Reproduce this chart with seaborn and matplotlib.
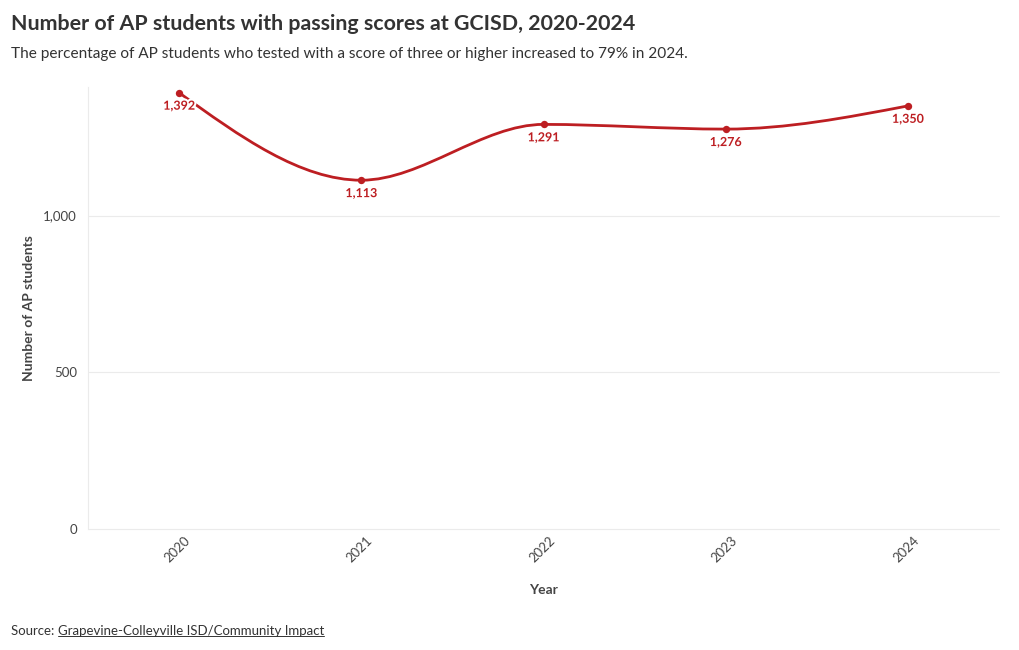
"""AP students with passing scores at GCISD, 2020-2024."""

import matplotlib

matplotlib.use("Agg")

import matplotlib.patheffects as pe
import matplotlib.pyplot as plt
import numpy as np
import pandas as pd
import seaborn as sns
from matplotlib.lines import Line2D
from matplotlib.patches import PathPatch
from matplotlib.path import Path

years = [2020, 2021, 2022, 2023, 2024]
students = [1392, 1113, 1291, 1276, 1350]
y_ticks = [0, 500, 1000]

RED = "#bd1e22"
GREY = "#444444"

sns.set_theme(style="white")
plt.rcParams["font.family"] = ["Lato", "DejaVu Sans"]


def monotone_x_path(x, y) -> Path:
    """Bezier path like d3.curveMonotoneX."""
    x = np.asarray(x, dtype=float)
    y = np.asarray(y, dtype=float)
    n = len(x)
    h = np.diff(x)
    s = np.diff(y) / h
    t = np.zeros(n)
    for i in range(1, n - 1):
        p = (s[i - 1] * h[i] + s[i] * h[i - 1]) / (h[i - 1] + h[i])
        t[i] = (np.sign(s[i - 1]) + np.sign(s[i])) * min(abs(s[i - 1]), abs(s[i]), 0.5 * abs(p))
    t[0] = (3 * s[0] - t[1]) / 2
    t[-1] = (3 * s[-1] - t[-2]) / 2
    verts = [(x[0], y[0])]
    codes = [Path.MOVETO]
    for i in range(n - 1):
        dx = h[i] / 3
        verts += [(x[i] + dx, y[i] + dx * t[i]), (x[i + 1] - dx, y[i + 1] - dx * t[i + 1]), (x[i + 1], y[i + 1])]
        codes += [Path.CURVE4] * 3
    return Path(verts, codes)


df = pd.DataFrame({"year": years, "students": students})

fig = plt.figure(figsize=(10.2, 6.5), dpi=100)
ax = fig.add_axes([0.0863, 0.186, 0.8931, 0.68])

ax.add_patch(PathPatch(monotone_x_path(years, students), fill=False, edgecolor=RED, lw=2.0, zorder=3))
sns.scatterplot(data=df, x="year", y="students", color=RED, s=28, edgecolor=RED, linewidth=0, ax=ax, zorder=4)

for yr, val in zip(years, students):
    ax.annotate(
        f"{val:,}", (yr, val), xytext=(0, -5), textcoords="offset points",
        ha="center", va="top", fontsize=9, fontweight="bold", color=RED, zorder=5,
        path_effects=[pe.withStroke(linewidth=3, foreground="white")],
    )

ax.set_xlim(2019.5, 2024.5)
ax.set_ylim(0, 1410)
ax.set_xticks(years)
ax.set_xticklabels([str(y) for y in years], rotation=45, ha="right", rotation_mode="anchor",
                   fontsize=9.5, color=GREY)
ax.set_yticks(y_ticks)
ax.set_yticklabels([f"{v:,}" for v in y_ticks], fontsize=9.5, color=GREY)
ax.tick_params(axis="y", length=0, pad=8)
ax.tick_params(axis="x", length=0, pad=4)
for lab in ax.get_xticklabels():
    lab.set_transform(lab.get_transform() + matplotlib.transforms.ScaledTranslation(0.05, 0, fig.dpi_scale_trans))
ax.grid(axis="y", color="#ebebeb", lw=0.8)
for gl in ax.get_ygridlines():
    gl.set_clip_on(False)
ax.set_axisbelow(True)
for side in ["top", "right", "bottom"]:
    ax.spines[side].set_visible(False)
ax.spines["left"].set_color("#ebebeb")
ax.spines["left"].set_linewidth(0.8)

ax.set_xlabel("Year", fontsize=10, fontweight="bold", color=GREY)
ax.set_ylabel("Number of AP students", fontsize=10, fontweight="bold", color=GREY)
ax.xaxis.set_label_coords(0.5, -0.125)
ax.yaxis.set_label_coords(-0.058, 0.5)

fig.text(0.011, 0.963, "Number of AP students with passing scores at GCISD, 2020-2024",
         fontsize=15.4, fontweight="bold", color="#333333", va="center")
fig.text(0.011, 0.917, "The percentage of AP students who tested with a score of three or higher increased to 79% in 2024.",
         fontsize=11.1, color="#333333", va="center")

src = fig.text(0.011, 0.029, "Source: ", fontsize=9.5, color="#333333", va="center")
fig.canvas.draw()
renderer = fig.canvas.get_renderer()
bb = src.get_window_extent(renderer).transformed(fig.transFigure.inverted())
link = fig.text(bb.x1, 0.029, "Grapevine-Colleyville ISD/Community Impact", fontsize=9.5, color="#333333", va="center")
lb = link.get_window_extent(renderer).transformed(fig.transFigure.inverted())
fig.add_artist(Line2D([lb.x0, lb.x1], [lb.y0 + 0.002, lb.y0 + 0.002], color="#333333", lw=0.7, transform=fig.transFigure))

fig.savefig("out.png", dpi=100)
